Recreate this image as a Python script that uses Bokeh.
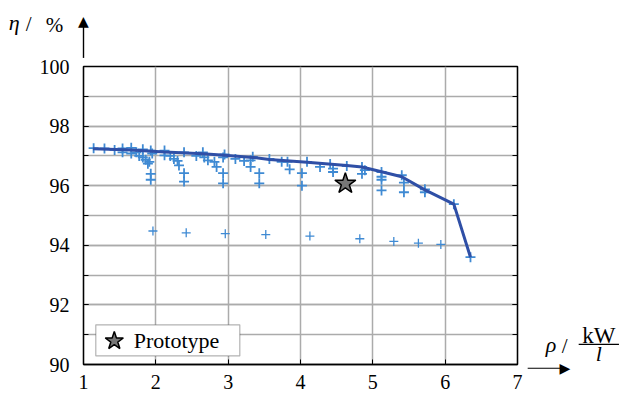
from bokeh.plotting import figure
from bokeh.models import (Range1d, FixedTicker, LinearAxis, Label, BoxAnnotation)
from bokeh.embed import file_html
from bokeh.resources import INLINE

# ---- data ----
var_rho = [1.14, 1.29, 1.43, 1.54, 1.54, 1.66, 1.66, 1.73, 1.77, 1.82, 1.82, 1.86, 1.89, 1.91,
           1.93, 1.95, 1.93, 1.93, 2.12, 2.12, 2.20, 2.25, 2.30, 2.32, 2.39, 2.39, 2.39,
           2.56, 2.65, 2.67, 2.72, 2.81, 2.84, 2.93, 2.95, 2.93, 2.93, 3.10, 3.22, 3.31,
           3.31, 3.34, 3.43, 3.43, 3.57, 3.74, 3.82, 3.85, 4.02, 4.02, 4.09, 4.27, 4.41,
           4.45, 4.45, 4.64, 4.85, 4.85, 4.89, 5.12, 5.12, 5.12, 5.12, 5.40, 5.43, 5.43,
           5.72, 5.72, 6.12, 6.35]
var_eta = [97.26, 97.25, 97.20, 97.25, 97.12, 97.27, 97.08, 97.12, 97.00, 97.22, 96.95, 96.87, 96.74, 96.80,
           97.18, 97.08, 96.40, 96.20, 97.18, 97.02, 97.00, 96.90, 96.83, 96.68, 97.12, 96.42, 96.14,
           97.00, 97.12, 96.95, 96.85, 96.80, 96.63, 96.95, 97.05, 96.42, 96.08, 96.90, 96.83, 96.85,
           96.63, 96.97, 96.42, 96.08, 96.90, 96.80, 96.80, 96.55, 96.42, 96.00, 96.80, 96.63, 96.73,
           96.57, 96.46, 96.66, 96.63, 96.40, 96.52, 96.46, 96.30, 96.20, 95.84, 96.35, 96.10, 95.78,
           95.88, 95.78, 95.38, 93.60]

low_rho = [1.96, 2.42, 2.96, 3.52, 4.13, 4.82, 5.29, 5.63, 5.94]
low_eta = [94.48, 94.42, 94.39, 94.36, 94.31, 94.22, 94.13, 94.07, 94.03]

front_rho = [1.13, 1.66, 2.12, 2.65, 2.95, 3.34, 3.57, 4.09, 4.64, 4.85, 5.12, 5.40, 5.72, 6.12, 6.35]
front_eta = [97.24, 97.20, 97.13, 97.07, 97.02, 96.95, 96.88, 96.79, 96.68, 96.63, 96.47, 96.30, 95.86, 95.38, 93.60]

proto_rho = [4.62]
proto_eta = [96.07]
legend_label = "Prototype"

x_ticks = [1, 2, 3, 4, 5, 6, 7]
y_ticks = [90, 92, 94, 96, 98, 100]
y_minor = [90, 91, 92, 93, 94, 95, 96, 97, 98, 99, 100]

FONT = "Liberation Serif"
MARK = "#3f8ad3"
LINE = "#2f4fa6"
GRID = "#ababab"

p = figure(width=620, height=394, output_backend="svg", toolbar_location=None,
           x_range=Range1d(1, 7), y_range=Range1d(90, 100),
           min_border_left=83, min_border_right=103, min_border_top=66, min_border_bottom=30)
p.background_fill_color = "white"
p.border_fill_color = "white"
p.outline_line_color = "black"
p.outline_line_width = 1.3

# axes
p.xaxis.ticker = FixedTicker(ticks=x_ticks)
p.yaxis.ticker = FixedTicker(ticks=y_ticks, minor_ticks=y_minor)
for ax in (p.xaxis[0], p.yaxis[0]):
    ax.axis_line_color = "black"
    ax.axis_line_width = 1.3
    ax.major_tick_in = 5
    ax.major_tick_out = 0
    ax.minor_tick_in = 5
    ax.minor_tick_out = 0
    ax.major_tick_line_color = "black"
    ax.minor_tick_line_color = "black"
    ax.major_label_text_font = FONT
    ax.major_label_text_font_size = "20px"
    ax.major_label_text_color = "black"
p.xaxis.major_label_standoff = 10
p.yaxis.major_label_standoff = 14

rax = LinearAxis(ticker=FixedTicker(ticks=y_ticks, minor_ticks=y_minor))
rax.major_label_text_font_size = "0px"
rax.major_label_text_color = None
rax.major_tick_in = 5
rax.major_tick_out = 0
rax.minor_tick_in = 5
rax.minor_tick_out = 0
rax.axis_line_width = 1.3
p.add_layout(rax, "right")

# grids
p.xgrid.grid_line_color = GRID
p.xgrid.grid_line_width = 1.5
p.ygrid.ticker = FixedTicker(ticks=y_ticks, minor_ticks=y_minor)
p.ygrid.grid_line_color = GRID
p.ygrid.grid_line_width = 1.3
p.ygrid.minor_grid_line_color = GRID
p.ygrid.minor_grid_line_width = 1.3

# data
p.scatter(var_rho, var_eta, marker="cross", size=10, line_color=MARK, line_width=1.8)
p.scatter(low_rho, low_eta, marker="cross", size=9, line_color=MARK, line_width=1.3)
p.line(front_rho, front_eta, line_color=LINE, line_width=3)
p.scatter(proto_rho, proto_eta, marker="star", size=22, fill_color="#777777",
          line_color="black", line_width=1.5)

# helpers: pixel positions -> data coordinates (for annotations only)
def dx(px):
    return 1 + (px - 82.7) / 72.33

def dy(py):
    return 100 - (py - 66.5) / 29.7

# legend box (drawn by hand so the star key is large enough)
p.add_layout(BoxAnnotation(left=dx(95), right=dx(239), bottom=dy(355), top=dy(324),
                           fill_color="white", fill_alpha=1, line_color="black", line_width=1.2,
                           level="annotation"))
p.scatter([dx(113.5)], [dy(340)], marker="star", size=19, fill_color="#777777",
          line_color="black", line_width=1.5, level="overlay")
p.add_layout(Label(x=dx(133), y=dy(340), text=legend_label, text_font=FONT, text_color="black",
                   text_font_size="22px", text_baseline="middle", text_align="left",
                   level="overlay"))

SHIFT = 5  # bokeh places side-panel text slightly low

def txt(px, py, s, size, italic=False, align="left"):
    return Label(x=dx(px), y=dy(py - SHIFT), text=s, text_font=FONT,
                 text_font_style="italic" if italic else "normal", text_color="black",
                 text_font_size=size, text_baseline="alphabetic", text_align=align)

def bar(px, py, pad, font_size):
    # a thin black rectangle made from a label's background box; pad = (horizontal, vertical)
    return Label(x=dx(px), y=dy(py), text=" ", text_font_size=font_size,
                 text_align="center", text_baseline="middle", padding=pad,
                 background_fill_color="black", background_fill_alpha=1,
                 text_color="black")

def head(px, py, ch):
    return Label(x=dx(px), y=dy(py), text=ch, text_font="DejaVu Sans", text_font_size="14px",
                 text_align="center", text_baseline="middle", text_color="black")

# Side panels are not clipped to the frame; items are spread over the panels
# so that their summed sizes stay inside the borders.
# y axis quantity label and arrow
p.add_layout(bar(82.7, 42, (0, 13), "5px"), "left")
p.add_layout(head(82.7, 21, "▲"), "above")
p.add_layout(txt(8, 28, "η", "22px", italic=True), "left")
p.add_layout(txt(25, 29, "/", "21px"), "right")
p.add_layout(txt(45, 30, "%", "21px"), "left")

# x axis quantity label and arrow
p.add_layout(bar(543, 367.3, (16, 0), "1px"), "above")
p.add_layout(head(564, 367.3, "▶"), "above")
p.add_layout(txt(545, 349, "ρ", "22px", italic=True), "right")
p.add_layout(txt(561, 350, "/", "21px"), "right")
p.add_layout(txt(598, 340, "kW", "23px", align="center"), "right")
p.add_layout(bar(598, 343.5, (20, 0), "1px"), "above")
p.add_layout(txt(598, 358, "l", "22px", italic=True, align="center"), "right")

open("out.html", "w").write(file_html(p, INLINE))
